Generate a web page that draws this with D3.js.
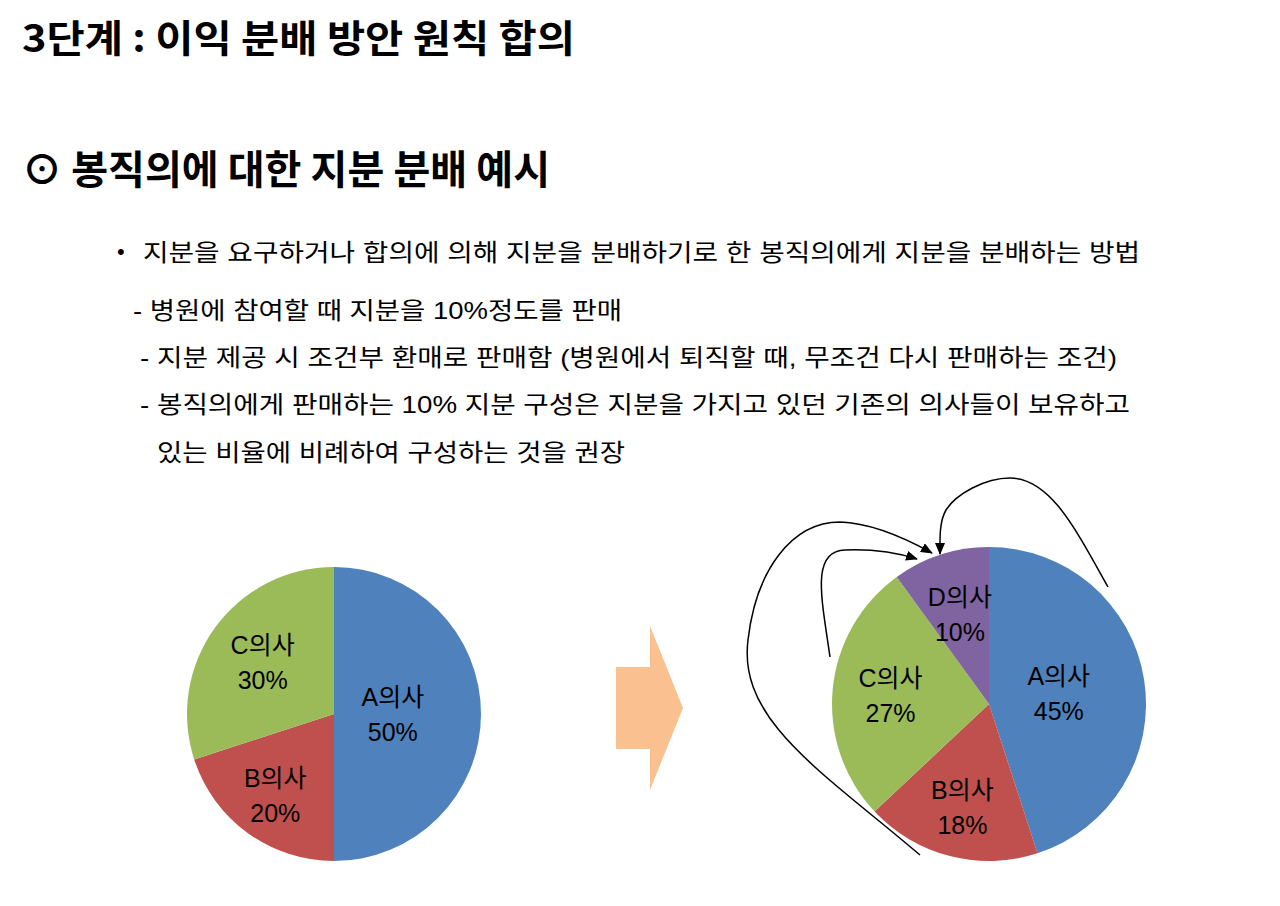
<!DOCTYPE html>
<html>
<head>
<meta charset="utf-8">
<script src="https://cdn.jsdelivr.net/npm/d3@7"></script>
<style>
  html, body { margin: 0; padding: 0; background: #ffffff; }
  svg { display: block; }
</style>
</head>
<body>
<svg id="chart" width="1280" height="906"></svg>
<script>
// ---------- data ----------
const titleText = "3단계 : 이익 분배 방안 원칙 합의";
const headingText = "⊙ 봉직의에 대한 지분 분배 예시";
const bulletLines = [
  "지분을 요구하거나 합의에 의해 지분을 분배하기로 한 봉직의에게 지분을 분배하는 방법",
  "- 병원에 참여할 때 지분을 10%정도를 판매",
  "- 지분 제공 시 조건부 환매로 판매함 (병원에서 퇴직할 때, 무조건 다시 판매하는 조건)",
  "- 봉직의에게 판매하는 10% 지분 구성은 지분을 가지고 있던 기존의 의사들이 보유하고",
  "있는 비율에 비례하여 구성하는 것을 권장"
];
const beforeNames = ["A의사", "B의사", "C의사"];
const beforeValues = [50, 20, 30];
const afterNames = ["A의사", "B의사", "C의사", "D의사"];
const afterValues = [45, 18, 27, 10];
const sliceColors = ["#4F81BD", "#C0504D", "#9BBB59", "#8064A2"];
// redistribution arrows: from the existing doctors to D
const transferFrom = ["C의사", "B의사", "A의사"];
const transferTo = "D의사";

// ---------- layout ----------
const svg = d3.select("#chart");
const W = 1280, H = 906;
svg.append("rect").attr("width", W).attr("height", H).attr("fill", "#ffffff");

const cjk = "'Noto Sans CJK KR', 'Noto Sans', sans-serif";
const latin = "'Liberation Sans', Arial, 'Noto Sans CJK KR', sans-serif";

// title
svg.append("text")
  .attr("x", 22).attr("y", 52)
  .attr("font-family", cjk).attr("font-weight", 700).attr("font-size", 38)
  .attr("textLength", 553).attr("lengthAdjust", "spacingAndGlyphs")
  .attr("fill", "#000").text(titleText);

svg.append("text")
  .attr("x", 22).attr("y", 184)
  .attr("font-family", cjk).attr("font-weight", 700).attr("font-size", 40)
  .attr("textLength", 528).attr("lengthAdjust", "spacingAndGlyphs")
  .attr("fill", "#000").text(headingText);

// body lines
const lineSpec = [
  { x: 143, y: 261, w: 997 },
  { x: 133, y: 319, w: 489 },
  { x: 140, y: 366, w: 977 },
  { x: 140, y: 413, w: 990 },
  { x: 157, y: 461, w: 468 }
];
svg.append("text")
  .attr("x", 117).attr("y", 259)
  .attr("font-family", latin).attr("font-size", 22).attr("fill", "#000")
  .text("•");
svg.selectAll("text.body")
  .data(bulletLines)
  .join("text")
  .attr("class", "body")
  .attr("x", (d, i) => lineSpec[i].x)
  .attr("y", (d, i) => lineSpec[i].y)
  .attr("textLength", (d, i) => lineSpec[i].w)
  .attr("lengthAdjust", "spacingAndGlyphs")
  .attr("font-family", latin).attr("font-size", 24).attr("fill", "#000")
  .text(d => d);

// ---------- pies ----------
const pie = d3.pie().sort(null).value(d => d.v);
const color = d3.scaleOrdinal().domain(afterNames).range(sliceColors);

function labelRatio(frac) {
  return 0.68 - Math.max(0, frac - 0.22) - Math.max(0, 0.15 - frac) * 1.6;
}

function drawPie(cx, cy, r, names, values) {
  const data = names.map((n, i) => ({ n, v: values[i] }));
  const total = d3.sum(values);
  const g = svg.append("g").attr("transform", `translate(${cx},${cy})`);
  const arcs = pie(data);
  const arc = d3.arc().innerRadius(0).outerRadius(r);
  g.selectAll("path")
    .data(arcs)
    .join("path")
    .attr("d", arc)
    .attr("fill", d => color(d.data.n));

  const lbl = g.selectAll("g.lbl")
    .data(arcs)
    .join("g")
    .attr("class", "lbl")
    .attr("transform", d => {
      const rr = r * labelRatio(d.data.v / total);
      const a = (d.startAngle + d.endAngle) / 2;
      return `translate(${Math.sin(a) * rr},${-Math.cos(a) * rr})`;
    });
  lbl.append("text")
    .attr("text-anchor", "middle")
    .attr("y", -8)
    .attr("font-family", latin).attr("font-size", 25).attr("fill", "#000")
    .text(d => d.data.n);
  lbl.append("text")
    .attr("text-anchor", "middle")
    .attr("y", 27)
    .attr("font-family", latin).attr("font-size", 25).attr("fill", "#000")
    .text(d => d3.format(".0%")(d.data.v / total));
  return { g, arcs };
}

drawPie(334, 714, 147, beforeNames, beforeValues);
drawPie(989, 704, 157, afterNames, afterValues);

// ---------- block arrow ----------
const arrowPts = [[616, 667], [650, 667], [650, 626], [683, 708], [650, 790], [650, 749], [616, 749]];
svg.append("path")
  .attr("d", d3.line()(arrowPts) + "Z")
  .attr("fill", "#FAC090");

// ---------- curved redistribution arrows ----------
const defs = svg.append("defs");
defs.append("marker")
  .attr("id", "head")
  .attr("viewBox", "0 0 12 10")
  .attr("refX", 11).attr("refY", 5)
  .attr("markerWidth", 12).attr("markerHeight", 10)
  .attr("markerUnits", "userSpaceOnUse")
  .attr("orient", "auto")
  .append("path").attr("d", "M0,0 L12,5 L0,10 Z").attr("fill", "#000");

function curve(pts) {
  const p = d3.path();
  p.moveTo(pts[0][0], pts[0][1]);
  for (let i = 1; i < pts.length; i += 3) {
    p.bezierCurveTo(pts[i][0], pts[i][1], pts[i + 1][0], pts[i + 1][1], pts[i + 2][0], pts[i + 2][1]);
  }
  return p.toString();
}
const curveShapes = [
  [[830, 657], [822, 600], [810, 551], [845, 550], [872, 549], [895, 552], [917, 559]],
  [[920, 855], [820, 770], [738, 720], [748, 640], [756, 570], [792, 522], [840, 522], [872, 523], [905, 538], [932, 553]],
  [[1108, 587], [1075, 528], [1050, 478], [1010, 478], [985, 478], [956, 494], [946, 510], [939, 522], [940, 540], [940, 554]]
];
svg.selectAll("path.transfer")
  .data(transferFrom)
  .join("path")
  .attr("class", "transfer")
  .attr("d", (d, i) => curve(curveShapes[i]))
  .attr("fill", "none")
  .attr("stroke", "#000")
  .attr("stroke-width", 1.5)
  .attr("marker-end", "url(#head)");
</script>
</body>
</html>
